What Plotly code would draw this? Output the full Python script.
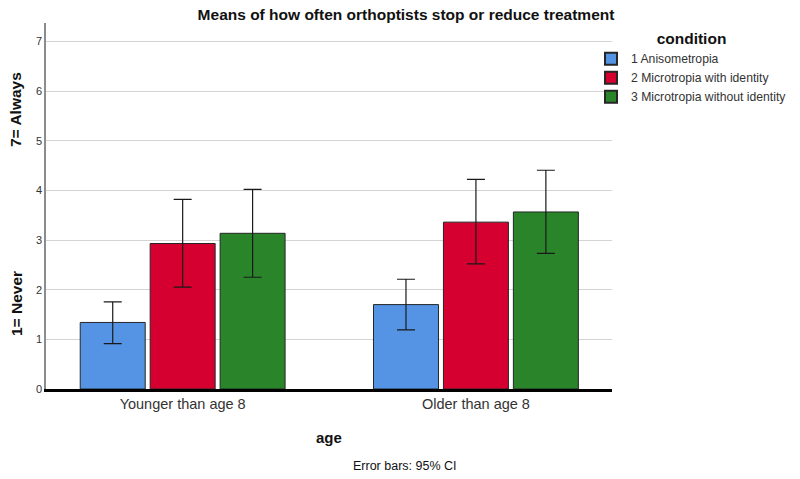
import plotly.graph_objects as go

ages = ["Younger than age 8", "Older than age 8"]
conditions = ["1 Anisometropia", "2 Microtropia with identity", "3 Microtropia without identity"]
colors = ["#5594E4", "#D5002F", "#2A842A"]

# means per condition across the two age groups
means = {
    "1 Anisometropia": [1.34, 1.70],
    "2 Microtropia with identity": [2.93, 3.36],
    "3 Microtropia without identity": [3.135, 3.565],
}
ci_upper = {
    "1 Anisometropia": [1.755, 2.21],
    "2 Microtropia with identity": [3.82, 4.22],
    "3 Microtropia without identity": [4.02, 4.405],
}
ci_lower = {
    "1 Anisometropia": [0.915, 1.19],
    "2 Microtropia with identity": [2.05, 2.52],
    "3 Microtropia without identity": [2.25, 2.73],
}

OFF = 8  # page body margin
W, H = 800 - OFF, 479 - OFF
L, T = 46 - OFF, 23 - OFF
R = W - (612 - OFF)
B = H - (389 - OFF)
PW, PH = W - L - R, H - T - B

def px(x):  # screen px -> paper
    return (x - OFF - L) / PW

def py(y):
    return 1 - (y - OFF - T) / PH

FONT = "Arial, Liberation Sans, sans-serif"

fig = go.Figure()
for c, col in zip(conditions, colors):
    m = means[c]
    up = [u - v for u, v in zip(ci_upper[c], m)]
    dn = [v - l for l, v in zip(ci_lower[c], m)]
    fig.add_trace(go.Bar(
        x=ages, y=m, name=c,
        marker=dict(color=col, line=dict(color="#262626", width=1)),
        error_y=dict(type="data", symmetric=False, array=up, arrayminus=dn,
                     color="#1a1a1a", thickness=1.2, width=9),
    ))

fig.update_layout(
    width=W, height=H,
    margin=dict(l=L, r=R, t=T, b=B, autoexpand=False),
    paper_bgcolor="white", plot_bgcolor="white",
    barmode="group", bargap=0.2845, bargroupgap=0.071,
    font=dict(family=FONT, color="#333333"),
    title=dict(text="<b>Means of how often orthoptists stop or reduce treatment</b>",
               x=(406 - OFF) / W, xanchor="center", xref="container",
               y=1 - (15 - OFF) / H, yanchor="middle", yref="container",
               font=dict(size=15.5, color="#111111", family=FONT)),
    xaxis=dict(range=[-0.466, 1.464], showline=True, linecolor="black", linewidth=3,
               ticks="", showgrid=False, tickfont=dict(size=14.5, color="#333333")),
    yaxis=dict(range=[0, 7.37], dtick=1, tick0=0, showgrid=True, gridcolor="#d4d4d4",
               gridwidth=1.2, zeroline=False, showline=True, linecolor="#8c8c8c",
               linewidth=1.5, ticks="", tickfont=dict(size=11, color="#333333")),
    legend=dict(x=px(591), xanchor="left", y=py(24), yanchor="top",
                title=dict(text="<b>condition</b>", side="top center",
                           font=dict(size=15.5, color="#111111", family=FONT)),
                font=dict(size=12.2, color="#333333", family=FONT),
                itemsizing="constant", tracegroupgap=0, bgcolor="rgba(0,0,0,0)"),
    showlegend=True,
)

annos = [
    dict(text="<b>7= Always</b>", x=px(16), y=py(110), textangle=-90, size=15.5),
    dict(text="<b>1= Never</b>", x=px(16), y=py(304), textangle=-90, size=15.5),
    dict(text="<b>age</b>", x=px(329), y=py(437), textangle=0, size=15),
    dict(text="Error bars: 95% CI", x=px(405), y=py(466), textangle=0, size=12.5),
]
for a in annos:
    fig.add_annotation(text=a["text"], x=a["x"], y=a["y"], xref="paper", yref="paper",
                       xanchor="center", yanchor="middle", showarrow=False,
                       textangle=a["textangle"],
                       font=dict(size=a["size"], color="#111111", family=FONT))

fig.write_html("out.html")
